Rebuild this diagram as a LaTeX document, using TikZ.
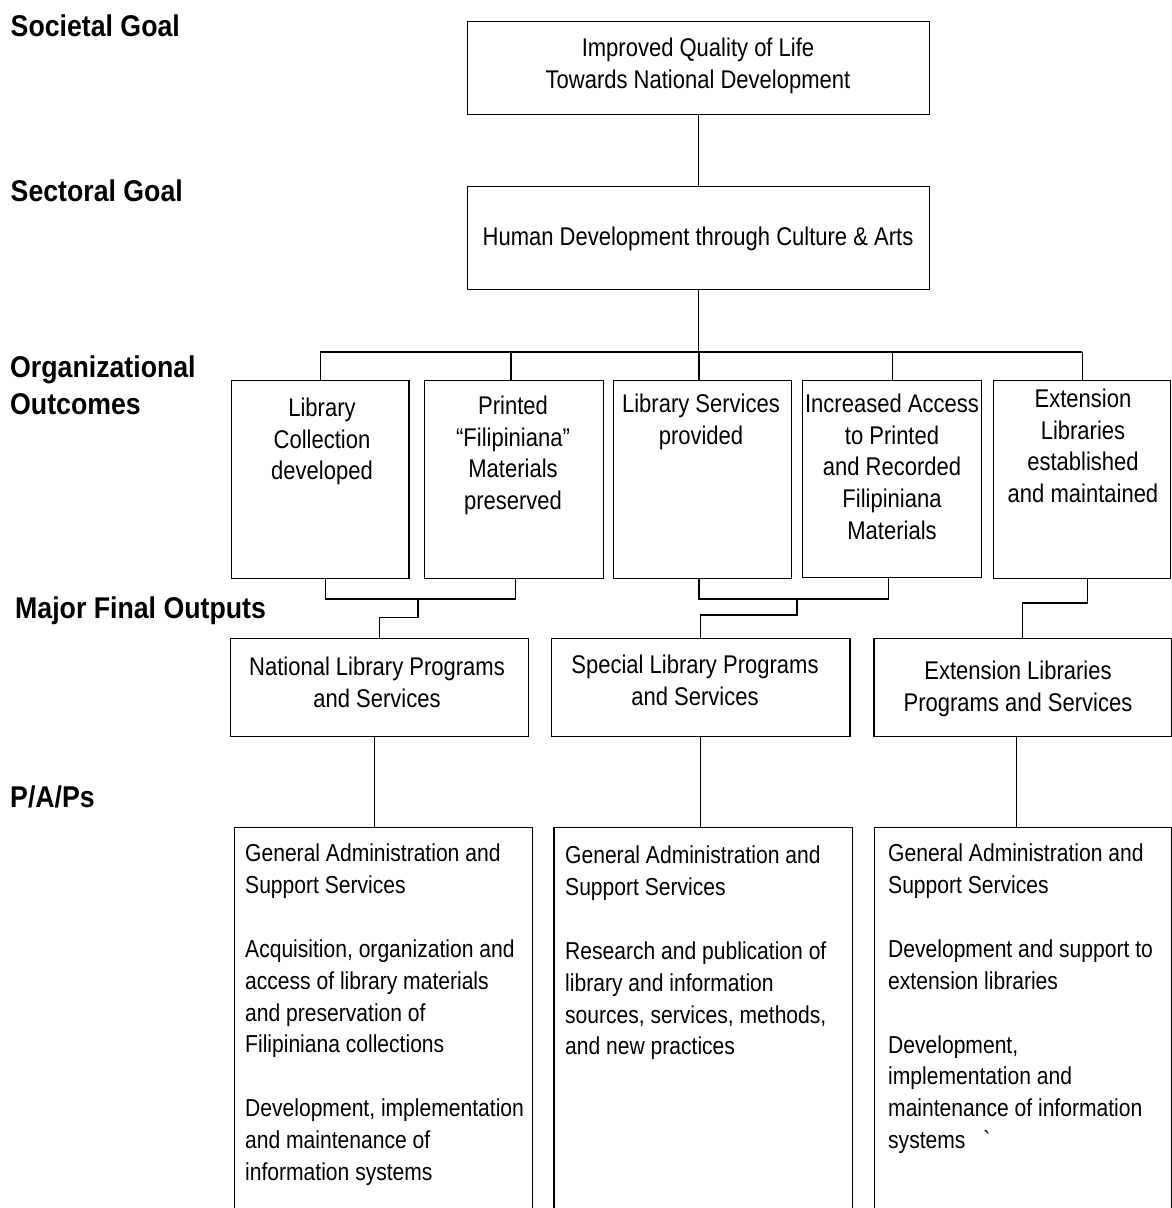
\documentclass[tikz,border=0pt]{standalone}
\usepackage{fontspec}
\setmainfont{Liberation Sans}[FakeStretch=0.86]
\newfontfamily\labfam{Liberation Sans}[FakeStretch=0.89]
\newcommand\bodyfont{\fontsize{25.6}{31.8}\selectfont}
\newcommand\labfont{\labfam\bfseries\fontsize{30}{36.7}\selectfont}
\newcommand\papfont{\fontsize{24.5}{31.8}\selectfont}
\tikzset{
  box/.style={draw=black, line width=1.3pt, rectangle, inner sep=0pt, anchor=north west},
  txt/.style={inner sep=0pt, align=center, anchor=north, font=\bodyfont},
  paptxt/.style={inner sep=0pt, align=left, anchor=north west, font=\papfont},
  lab/.style={inner sep=0pt, align=left, anchor=north west, font=\labfont},
  con/.style={draw=black, line width=1.3pt}
}
\begin{document}
\begin{tikzpicture}[x=1pt,y=-1pt]
\useasboundingbox (0,0) rectangle (1172,1208);
\clip (0,0) rectangle (1172,1208);

% left labels
\node[lab] (l1) at (10.5,15) {Societal Goal};
\node[lab] (l2) at (10.5,180) {Sectoral Goal};
\node[lab] (l3) at (10,355.5) {Organizational\\Outcomes};
\node[lab] (l4) at (15,596.7) {Major Final Outputs};
\node[lab] (l5) at (10,786) {P/A/Ps};

% goals
\node[box, minimum width=462pt, minimum height=93pt] (g1) at (467,21) {};
\node[txt] (g1t) at (698,37.5) {Improved Quality of Life\\Towards National Development};
\node[box, minimum width=462pt, minimum height=103pt] (g2) at (467,186) {};
\node[txt] (g2t) at (698,227) {Human Development through Culture \& Arts};

% organizational outcomes
\node[box, minimum width=177.6pt, minimum height=198pt] (o1) at (230.7,380) {};
\node[box, minimum width=178.7pt, minimum height=198pt] (o2) at (424,380) {};
\node[box, minimum width=178pt, minimum height=198pt] (o3) at (613,380) {};
\node[box, minimum width=179pt, minimum height=197pt] (o4) at (802,380) {};
\node[box, minimum width=177pt, minimum height=198pt] (o5) at (993,380) {};
\node[txt] (o1t) at (322,397.5) {Library\\Collection\\developed};
\node[txt] (o2t) at (513,395.5) {Printed\\``Filipiniana''\\Materials\\preserved};
\node[txt] (o3t) at (701,393.5) {Library Services\\provided};
\node[txt] (o4t) at (892,393.5) {Increased Access\\to Printed\\and Recorded\\Filipiniana\\Materials};
\node[txt] (o5t) at (1083,388.5) {Extension\\Libraries\\established\\and maintained};

% major final outputs
\node[box, minimum width=298.4pt, minimum height=98.3pt] (m1) at (229.6,637.7) {};
\node[box, minimum width=298.3pt, minimum height=98.3pt] (m2) at (551,637.7) {};
\node[box, minimum width=297.4pt, minimum height=98.3pt] (m3) at (873.3,637.7) {};
\node[txt] (m1t) at (377,657) {National Library Programs\\and Services};
\node[txt] (m2t) at (695,654.5) {Special Library Programs\\and Services};
\node[txt] (m3t) at (1018,660.5) {Extension Libraries\\Programs and Services};

% P/A/Ps
\node[box, minimum width=298pt, minimum height=420pt] (p1) at (233.5,827) {};
\node[box, minimum width=298.2pt, minimum height=420pt] (p2) at (553.3,827) {};
\node[box, minimum width=296.5pt, minimum height=420pt] (p3) at (874,827) {};
\node[paptxt] (p1t) at (245,844) {General Administration and\\Support Services\\[32pt]Acquisition, organization and\\access of library materials\\and preservation of\\Filipiniana collections\\[32pt]Development, implementation\\and maintenance of\\information systems};
\node[paptxt] (p2t) at (565,846) {General Administration and\\Support Services\\[32pt]Research and publication of\\library and information\\sources, services, methods,\\and new practices};
\node[paptxt] (p3t) at (888,844) {General Administration and\\Support Services\\[32pt]Development and support to\\extension libraries\\[32pt]Development,\\implementation and\\maintenance of information\\systems\hspace{18pt}\textasciigrave};

% connectors: goals
\draw[con] (g1.south) -- (g2.north);
\coordinate (bar) at (0,352);
\draw[con] (g2.south) -- (g2.south |- bar);
\draw[con] (o1.north |- bar) -- (o5.north |- bar);
\draw[con] (o1.north |- bar) -- (o1.north);
\draw[con] ([xshift=-3pt]o2.north |- bar) -- ([xshift=-3pt]o2.north);
\draw[con] ([xshift=-3.6pt]o3.north |- bar) -- ([xshift=-3.6pt]o3.north);
\draw[con] (o4.north |- bar) -- (o4.north);
\draw[con] (o5.north |- bar) -- (o5.north);

% connectors: outcomes to MFOs
\coordinate (j1) at (418,599);
\draw[con] ([xshift=5pt]o1.south) |- ([xshift=1.5pt]o2.south |- j1) -- ([xshift=1.5pt]o2.south);
\draw[con] (j1) -- ++(0,18.7) -| (m1.north);
\coordinate (j2) at (797,599);
\draw[con] ([xshift=-3.6pt]o3.south) |- ([xshift=-3.5pt]o4.south |- j2) -- ([xshift=-3.5pt]o4.south);
\draw[con] (j2) -- ++(0,16) -| (m2.north);
\coordinate (j3) at (0,603);
\draw[con] ([xshift=5.5pt]o5.south) -- ([xshift=5.5pt]o5.south |- j3) -| (m3.north);

% connectors: MFOs to P/A/Ps
\draw[con] ([xshift=-5pt]m1.south) -- ([xshift=-5pt]m1.south |- p1.north);
\draw[con] (m2.south) -- (m2.south |- p2.north);
\draw[con] ([xshift=-6pt]m3.south) -- ([xshift=-6pt]m3.south |- p3.north);
\end{tikzpicture}
\end{document}
